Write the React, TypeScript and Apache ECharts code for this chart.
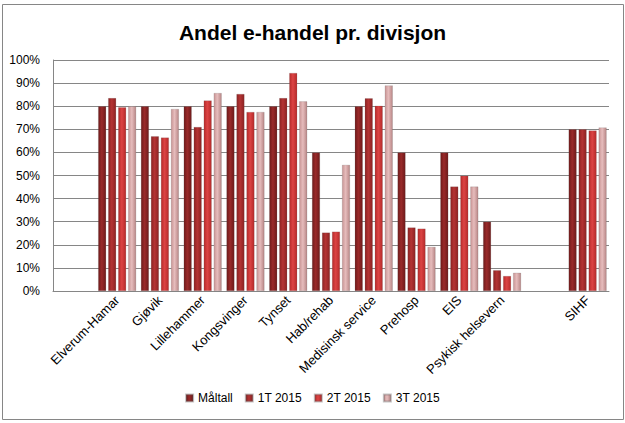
import React, { useEffect, useRef } from "react";
import * as echarts from "echarts";

const categories = ["", "Elverum-Hamar", "Gjøvik", "Lillehammer", "Kongsvinger", "Tynset", "Hab/rehab", "Medisinsk service", "Prehosp", "EIS", "Psykisk helsevern", "", "SIHF"];
const seriesNames = ["Måltall", "1T 2015", "2T 2015", "3T 2015"];
const maltall = [null, 0.80, 0.80, 0.80, 0.80, 0.80, 0.60, 0.80, 0.60, 0.60, 0.30, null, 0.70];
const t1 = [null, 0.835, 0.67, 0.71, 0.853, 0.835, 0.253, 0.834, 0.275, 0.452, 0.09, null, 0.70];
const t2 = [null, 0.795, 0.664, 0.825, 0.775, 0.944, 0.257, 0.802, 0.27, 0.499, 0.065, null, 0.695];
const t3 = [null, 0.80, 0.788, 0.857, 0.775, 0.821, 0.546, 0.89, 0.191, 0.452, 0.079, null, 0.708];
const yTicks = [0, 0.1, 0.2, 0.3, 0.4, 0.5, 0.6, 0.7, 0.8, 0.9, 1.0];

const palette = [
  ["#6e1a1a", "#9a2a2a", "#6e1a1a"],
  ["#8c2222", "#b43434", "#8c2222"],
  ["#b52a2a", "#dc4444", "#b52a2a"],
  ["#c89494", "#e6bcbc", "#b88686"],
];

export default function App() {
  const ref = useRef<HTMLDivElement>(null);
  useEffect(() => {
    if (!ref.current) return;
    const chart = echarts.init(ref.current, null, { renderer: "svg" });
    const data = [maltall, t1, t2, t3];
    const font = "'Liberation Sans', Arial, sans-serif";
    chart.setOption({
      animation: false,
      backgroundColor: "#ffffff",
      title: {
        text: "Andel e-handel pr. divisjon",
        left: "center",
        top: 17,
        textStyle: { fontSize: 21, fontWeight: "bold", color: "#000", fontFamily: font },
      },
      legend: {
        bottom: 14,
        left: "center",
        icon: "rect",
        itemWidth: 7,
        itemHeight: 7,
        itemGap: 12,
        itemTextGap: 3,
        textStyle: { fontSize: 12, color: "#000", fontFamily: font },
        data: seriesNames,
      },
      graphic: [
        {
          type: "rect",
          shape: { x: 2.5, y: 4.5, width: 621, height: 415 },
          style: { fill: "none", stroke: "#868686", lineWidth: 1 },
          silent: true,
        },
      ],
      grid: { left: 53, right: 16, top: 60, bottom: 132, containLabel: false },
      xAxis: {
        type: "category",
        data: categories,
        axisTick: { show: false },
        axisLine: { lineStyle: { color: "#868686" } },
        axisLabel: {
          interval: 0,
          rotate: 45,
          fontSize: 13,
          color: "#000",
          fontFamily: font,
          margin: 7,
        },
      },
      yAxis: {
        type: "value",
        min: 0,
        max: 1,
        interval: 0.1,
        axisLine: { show: true, lineStyle: { color: "#868686" } },
        axisTick: { show: false },
        splitLine: { lineStyle: { color: "#868686" } },
        axisLabel: {
          fontSize: 12,
          color: "#000",
          fontFamily: font,
          margin: 13,
          formatter: (v: number) => {
            const found = yTicks.find((t) => Math.abs(t - v) < 1e-6);
            return Math.round((found ?? v) * 100) + "%";
          },
        },
      },
      series: seriesNames.map((name, i) => ({
        name,
        type: "bar",
        data: data[i],
        barWidth: 8,
        barGap: "25%",
        itemStyle: {
          color: new echarts.graphic.LinearGradient(0, 0, 1, 0, [
            { offset: 0, color: palette[i][0] },
            { offset: 0.45, color: palette[i][1] },
            { offset: 1, color: palette[i][2] },
          ]),
          borderColor: "rgba(90,90,90,0.35)",
          borderWidth: 0.5,
        },
      })),
    });
    return () => chart.dispose();
  }, []);
  return (
    <div
      ref={ref}
      style={{ position: "fixed", left: 0, top: 0, width: 625, height: 423 }}
    />
  );
}
